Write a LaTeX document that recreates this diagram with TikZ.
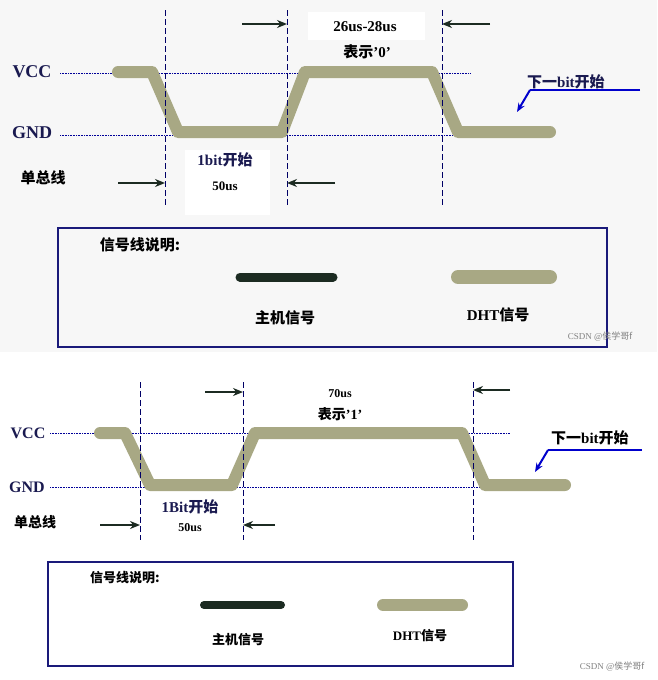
\documentclass[tikz,border=0pt]{standalone}
\usepackage{fontspec}
\setmainfont{Liberation Serif}
\newfontfamily\cjk{Noto Sans CJK SC}
\usetikzlibrary{arrows.meta}
\definecolor{sig}{HTML}{A8A884}
\definecolor{host}{HTML}{1C2B22}
\definecolor{frame}{HTML}{1A1A7A}
\definecolor{arr}{HTML}{1C2B22}
\definecolor{lbl}{HTML}{1A1A50}
\begin{document}
\begin{tikzpicture}[x=1pt,y=-1pt,
 sigl/.style={line width=12pt,sig,line cap=round,line join=round},
 hostl/.style={line width=9pt,host,line cap=round},
 lvl/.style={densely dotted,blue!60!black,line width=0.6pt},
 vdash/.style={dash pattern=on 6pt off 3pt,blue!40!black,line width=0.6pt},
 tarr/.style={-{Stealth[length=10pt,width=8pt]},arr,line width=2.4pt},
 big/.style={font=\fontsize{18}{20}\selectfont\bfseries},
 mid/.style={font=\fontsize{15}{17}\selectfont\bfseries},
 sml/.style={font=\fontsize{13}{15}\selectfont\bfseries},
 blu/.style={text=lbl},
 nxt/.style={blue!80!black,line width=2pt},
 csdn/.style={font=\fontsize{9}{10}\selectfont,text=gray}]
\useasboundingbox (0,0) rectangle (657,680);
\fill[white] (0,0) rectangle (657,680);
\fill[black!3] (0,0) rectangle (657,352);
% ---------- top panel ----------
\fill[white] (185,150) rectangle (270,215);
\fill[white] (308,12) rectangle (425,40);
\draw[lvl] (60,73) -- (470,73);
\draw[lvl] (60,135) -- (470,135);
\draw[sigl] (118,72) -- (152,72) -- (178,132) -- (282,132) -- (305,72) -- (432,72) -- (458,132) -- (550,132);
\foreach \x in {165,287,442} \draw[vdash] (\x,10) -- (\x,205);
\node[big,blu] (v1) at (32,72) {VCC};
\node[big,blu] (g1) at (32,133) {GND};
\node[mid] (s1) at (43,178) {\cjk\bfseries 单总线};
\node[mid,blu] (b1) at (225,160) {1bit\cjk\bfseries 开始};
\node[sml] (t1) at (225,186) {50us};
\node[mid] (u1) at (365,27) {26us-28us};
\node[mid] (z1) at (367,52) {\cjk\bfseries 表示\rmfamily\bfseries '0'};
\coordinate (a1s) at (242,24); \coordinate (a1e) at (287,24);
\coordinate (a2s) at (490,24); \coordinate (a2e) at (442,24);
\coordinate (a3s) at (118,183); \coordinate (a3e) at (165,183);
\coordinate (a4s) at (335,183); \coordinate (a4e) at (287,183);
\draw[tarr] (a1s) -- (a1e); \draw[tarr] (a2s) -- (a2e);
\draw[tarr] (a3s) -- (a3e); \draw[tarr] (a4s) -- (a4e);
\node[mid,blu,anchor=south west,inner sep=1pt] (n1) at (526,90) {\cjk\bfseries 下一\rmfamily\bfseries bit\cjk\bfseries 开始};
\coordinate (n1a) at (640,90); \coordinate (n1b) at (530,90); \coordinate (n1c) at (517,112);
\draw[nxt] (n1a) -- (n1b);
\draw[nxt,-{Stealth[length=9pt,width=7pt]}] (n1b) -- (n1c);
\draw[frame,line width=2.5pt] (58,228) rectangle (607,347);
\node[mid] (h1) at (140,245) {\cjk\bfseries 信号线说明:};
\draw[hostl] (240,277) -- (333,277);
\draw[sigl,line width=14pt] (458,277) -- (550,277);
\node[mid] (m1) at (285,318) {\cjk\bfseries 主机信号};
\node[mid] (d1) at (498,315) {DHT\cjk\bfseries 信号};
\node[csdn] (c1) at (600,337) {CSDN @\cjk 侯学哥f};
% ---------- bottom panel ----------
\fill[white] (160,498) rectangle (240,540);
\fill[white] (300,383) rectangle (385,403);
\draw[lvl] (50,433) -- (510,433);
\draw[lvl] (50,487) -- (510,487);
\draw[sigl] (100,433) -- (125,433) -- (150,485) -- (232,485) -- (255,433) -- (462,433) -- (485,485) -- (565,485);
\foreach \x in {140,243,473} \draw[vdash] (\x,382) -- (\x,540);
\node[font=\fontsize{16}{18}\selectfont\bfseries,blu] (v2) at (28,433) {VCC};
\node[font=\fontsize{16}{18}\selectfont\bfseries,blu] (g2) at (27,487) {GND};
\node[font=\fontsize{14}{16}\selectfont\bfseries] (s2) at (35,522) {\cjk\bfseries 单总线};
\node[mid,blu] (b2) at (190,507) {1Bit\cjk\bfseries 开始};
\node[font=\fontsize{12}{14}\selectfont\bfseries] (t2) at (190,528) {50us};
\node[font=\fontsize{12}{14}\selectfont\bfseries] (u2) at (340,394) {70us};
\node[font=\fontsize{14}{16}\selectfont\bfseries] (z2) at (340,414) {\cjk\bfseries 表示\rmfamily\bfseries '1'};
\coordinate (b1s) at (205,392); \coordinate (b1e) at (243,392);
\coordinate (b2s) at (510,390); \coordinate (b2e) at (473,390);
\coordinate (b3s) at (100,525); \coordinate (b3e) at (140,525);
\coordinate (b4s) at (275,525); \coordinate (b4e) at (243,525);
\draw[tarr] (b1s) -- (b1e); \draw[tarr] (b2s) -- (b2e);
\draw[tarr] (b3s) -- (b3e); \draw[tarr] (b4s) -- (b4e);
\node[mid,anchor=south west,inner sep=1pt] (n2) at (550,446) {\cjk\bfseries 下一\rmfamily\bfseries bit\cjk\bfseries 开始};
\coordinate (n2a) at (642,450); \coordinate (n2b) at (548,450); \coordinate (n2c) at (535,472);
\draw[nxt] (n2a) -- (n2b);
\draw[nxt,-{Stealth[length=9pt,width=7pt]}] (n2b) -- (n2c);
\draw[frame,line width=1.8pt] (48,562) rectangle (513,666);
\node[sml] (h2) at (125,578) {\cjk\bfseries 信号线说明:};
\draw[hostl,line width=8pt] (204,605) -- (281,605);
\draw[sigl,line width=12pt] (383,605) -- (462,605);
\node[sml] (m2) at (238,640) {\cjk\bfseries 主机信号};
\node[sml] (d2) at (420,636) {DHT\cjk\bfseries 信号};
\node[csdn] (c2) at (612,667) {CSDN @\cjk 侯学哥f};
\end{tikzpicture}
\end{document}
